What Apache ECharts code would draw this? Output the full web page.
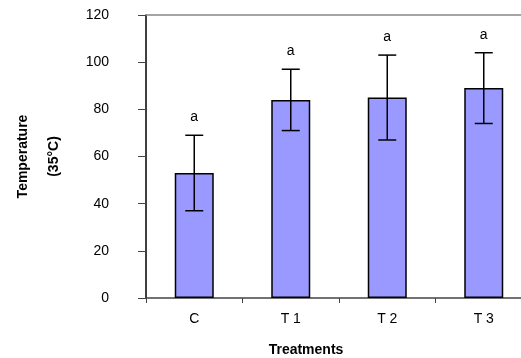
<!DOCTYPE html>
<html>
<head>
<meta charset="utf-8">
<script src="https://cdn.jsdelivr.net/npm/echarts@6/dist/echarts.min.js"></script>
<style>
  html, body { margin: 0; padding: 0; background: #fff; overflow: hidden; width: 521px; height: 358px; }
  #chart { width: 532px; height: 358px; }
</style>
</head>
<body>
<div id="chart"></div>
<script>
// 数据
var categories = ['C', 'T 1', 'T 2', 'T 3'];
var means = [53, 84, 85, 89];
var errors = [16, 13, 18, 15];
var letters = ['a', 'a', 'a', 'a'];
var yTicks = [0, 20, 40, 60, 80, 100, 120];

var chart = echarts.init(document.getElementById('chart'));

var errData = means.map(function (m, i) {
    return [i, m - errors[i], m + errors[i], letters[i]];
});

function renderErr(params, api) {
    var x = api.value(0);
    var lo = api.coord([x, api.value(1)]);
    var hi = api.coord([x, api.value(2)]);
    var cap = 9;
    var st = { stroke: '#000', lineWidth: 1.5 };
    return {
        type: 'group',
        children: [
            { type: 'line', shape: { x1: hi[0], y1: hi[1], x2: lo[0], y2: lo[1] }, style: st },
            { type: 'line', shape: { x1: hi[0] - cap, y1: hi[1], x2: hi[0] + cap, y2: hi[1] }, style: st },
            { type: 'line', shape: { x1: lo[0] - cap, y1: lo[1], x2: lo[0] + cap, y2: lo[1] }, style: st },
            {
                type: 'text',
                x: hi[0], y: hi[1] - 18,
                style: {
                    text: api.value(3), fill: '#000',
                    font: '14px "Liberation Sans", Arial, sans-serif',
                    align: 'center', verticalAlign: 'middle'
                }
            }
        ]
    };
}

var fontFam = '"Liberation Sans", Arial, sans-serif';

var option = {
    backgroundColor: '#fff',
    animation: false,
    grid: { left: 145, right: 0, top: 15, bottom: 60 },
    xAxis: [{
        type: 'category',
        data: categories,
        axisLine: { lineStyle: { color: '#444', width: 1.5 } },
        axisTick: { show: true, length: 5, lineStyle: { color: '#444' } },
        axisLabel: { color: '#000', fontSize: 14, fontFamily: fontFam, margin: 14 },
        splitLine: { show: false }
    }, {
        type: 'category',
        data: categories,
        position: 'top',
        axisLine: { lineStyle: { color: '#888', width: 1.5 } },
        axisTick: { show: false },
        axisLabel: { show: false }
    }],
    yAxis: {
        type: 'value',
        min: 0, max: 120, interval: 20,
        name: 'Temperature\n(35°C)',
        nameLocation: 'middle',
        nameRotate: 90,
        nameGap: 76,
        nameTextStyle: { color: '#000', fontSize: 14, fontWeight: 'bold', fontFamily: fontFam, lineHeight: 31 },
        axisLine: { show: true, lineStyle: { color: '#000', width: 1.5 } },
        axisTick: { show: true, length: 8, lineStyle: { color: '#444' } },
        axisLabel: {
            color: '#000', fontSize: 14, fontFamily: fontFam, margin: 37,
            formatter: function (v) { return yTicks.indexOf(v) >= 0 ? String(v) : ''; }
        },
        splitLine: { show: false }
    },
    graphic: [{
        type: 'text',
        x: 306, y: 350,
        style: {
            text: 'Treatments', fill: '#000',
            font: 'bold 14px ' + fontFam,
            align: 'center', verticalAlign: 'middle'
        }
    }],
    series: [{
        type: 'bar',
        data: means,
        barWidth: 39,
        itemStyle: { color: '#9999ff', borderColor: '#000', borderWidth: 1.5 }
    }, {
        type: 'custom',
        renderItem: renderErr,
        data: errData,
        z: 10
    }]
};

chart.setOption(option);
</script>
</body>
</html>
